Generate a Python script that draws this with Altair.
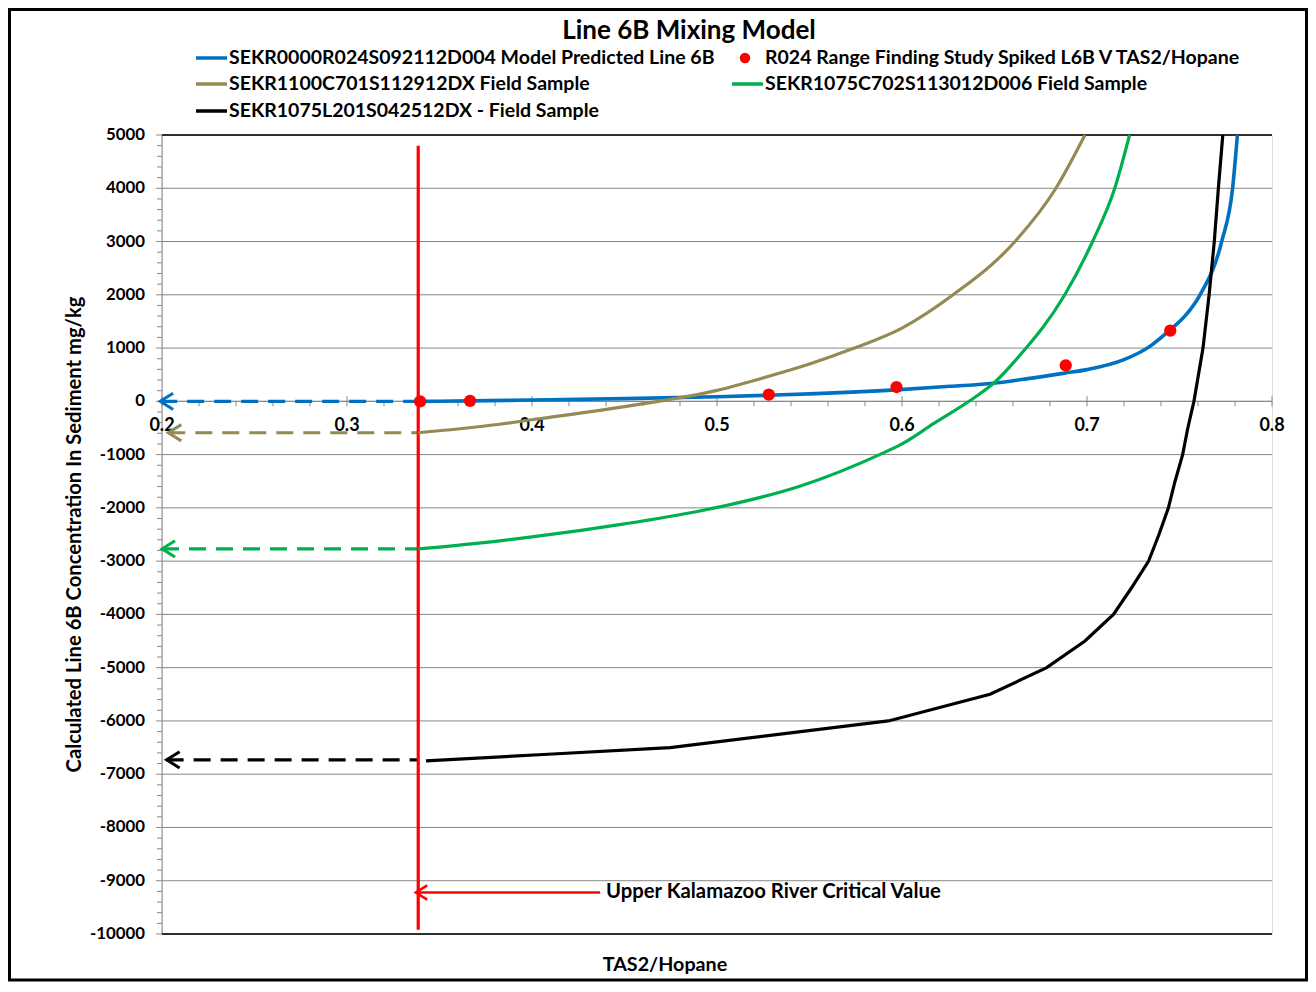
import altair as alt
import pandas as pd
import numpy as np

FONT = "Lato"

title_text = "Line 6B Mixing Model"
x_title = "TAS2/Hopane"
y_title = "Calculated Line 6B Concentration In Sediment mg/kg"
annotation_text = "Upper Kalamazoo River Critical Value"

legend_labels = [
    "SEKR0000R024S092112D004 Model Predicted Line 6B",
    "R024 Range Finding Study Spiked L6B V TAS2/Hopane",
    "SEKR1100C701S112912DX Field Sample",
    "SEKR1075C702S113012D006 Field Sample",
    "SEKR1075L201S042512DX - Field Sample",
]
BLUE, RED, TAN, GREEN, BLACK = "#0070C0", "#FF0000", "#948A54", "#00B050", "#000000"

# Series
blue_x = [0.3385, 0.3665, 0.40, 0.45, 0.50, 0.528, 0.55, 0.597, 0.626, 0.6495, 0.6638,
          0.688, 0.70, 0.72, 0.734, 0.745, 0.7536, 0.7611, 0.7728, 0.7787, 0.7813]
blue_y = [0, 8, 25, 50, 85, 115, 140, 215, 282, 340, 405,
          530, 595, 782, 1032, 1345, 1627, 2000, 3000, 4000, 5000]

spiked_x = [0.3395, 0.3665, 0.528, 0.597, 0.6885, 0.745]
spiked_y = [0, 10, 125, 269, 676, 1326]

tan_x = [0.3385, 0.36, 0.38, 0.40, 0.45, 0.47, 0.49, 0.50, 0.527, 0.55, 0.5735, 0.60,
         0.6276, 0.6611, 0.6832, 0.6989]
tan_y = [-590, -520, -440, -345, -100, 10, 130, 205, 460, 700, 990, 1375,
         2000, 3000, 4000, 5000]

green_x = [0.3385, 0.37, 0.40, 0.45, 0.49, 0.507, 0.5447, 0.5879, 0.60, 0.617, 0.64,
           0.6495, 0.6636, 0.688, 0.703, 0.715, 0.723]
green_y = [-2770, -2665, -2545, -2300, -2063, -1940, -1594, -1000, -800, -420, 90,
           340, 860, 2000, 3000, 4000, 5000]

black_x = [0.3427, 0.4062, 0.4746, 0.5926, 0.6476, 0.6782, 0.6989, 0.7143, 0.7241, 0.7333,
           0.7389, 0.744, 0.7476, 0.7517, 0.7545, 0.7578, 0.7627, 0.766, 0.7688, 0.771, 0.7734]
black_y = [-6750, -6630, -6500, -6000, -5500, -5000, -4500, -4000, -3500, -3000,
           -2500, -2000, -1500, -1000, -500, 0, 1000, 2000, 3000, 4000, 5000]

critical_value = 0.3385
arrow_tips = [0.199, 0.2034, 0.200, 0.2025]
arrow_levels = [0, -590, -2770, -6730]
arrow_colors = [BLUE, TAN, GREEN, BLACK]

annot_y = -9220
annot_tip = 0.3372
annot_tail = 0.4368
annot_text_x = 0.440

x_ticks = [0.2, 0.3, 0.4, 0.5, 0.6, 0.7, 0.8]
x_tick_labels = ["0.2", "0.3", "0.4", "0.5", "0.6", "0.7", "0.8"]
y_ticks = [5000, 4000, 3000, 2000, 1000, 0, -1000, -2000, -3000, -4000,
           -5000, -6000, -7000, -8000, -9000, -10000]
y_tick_labels = ["5000", "4000", "3000", "2000", "1000", "0", "-1000", "-2000", "-3000",
                 "-4000", "-5000", "-6000", "-7000", "-8000", "-9000", "-10000"]

# layout
W, H = 1110, 799
GRID = "#878787"
xs = alt.Scale(domain=[0.2, 0.8], nice=False, zero=False)
ys = alt.Scale(domain=[-10000, 5000], nice=False, zero=False)


def X(f):
    return alt.X(f, type="quantitative", scale=xs, axis=None)


def Y(f):
    return alt.Y(f, type="quantitative", scale=ys, axis=None)


one = pd.DataFrame({"a": [0]})

minor_x = [round(v, 2) for v in np.arange(0.2, 0.8001, 0.02) if round(v * 100) % 10 != 0]
minor_y = [v for v in range(-10000, 5001, 200) if v % 1000 != 0]

layers = []
ydf = pd.DataFrame({"v": y_ticks, "t": y_tick_labels})

# horizontal grid lines
layers.append(
    alt.Chart(ydf).mark_rule(color=GRID, strokeWidth=1).encode(
        y=Y("v"), x=alt.value(0), x2=alt.value(W))
)
# y axis line
layers.append(
    alt.Chart(one).mark_rule(color=GRID, strokeWidth=1).encode(
        x=alt.value(0), y=alt.value(0), y2=alt.value(H))
)
# y major ticks and labels
layers.append(
    alt.Chart(ydf).mark_rule(color=GRID, strokeWidth=1).encode(
        y=Y("v"), x=alt.value(-6), x2=alt.value(0))
)
layers.append(
    alt.Chart(ydf).mark_text(font=FONT, fontWeight="bold", fontSize=16.8, color="black",
                             align="right", baseline="middle").encode(
        y=Y("v"), x=alt.value(-17), text="t:N")
)
# y minor ticks
layers.append(
    alt.Chart(pd.DataFrame({"v": minor_y})).mark_rule(color=GRID, strokeWidth=1).encode(
        y=Y("v"), x=alt.value(-5), x2=alt.value(0)
    )
)
# top / bottom frame
layers.append(
    alt.Chart(pd.DataFrame({"v": [5000, -10000]})).mark_rule(color="black", strokeWidth=1.5).encode(
        y=Y("v"), x=alt.value(0), x2=alt.value(W)
    )
)
# x axis line at zero
layers.append(
    alt.Chart(pd.DataFrame({"a": [0.2], "b": [0.8], "y": [0]})).mark_rule(color=GRID, strokeWidth=1).encode(
        x=X("a"), x2="b", y=Y("y")
    )
)
layers.append(
    alt.Chart(pd.DataFrame({"x": x_ticks, "y": [0] * len(x_ticks)})).mark_tick(
        orient="vertical", size=10, thickness=1, color=GRID, opacity=1).encode(x=X("x"), y=Y("y"))
)
layers.append(
    alt.Chart(pd.DataFrame({"x": minor_x, "y": [0] * len(minor_x)})).mark_tick(
        orient="vertical", size=5, thickness=1, color=GRID, yOffset=2.5, opacity=1).encode(x=X("x"), y=Y("y"))
)
layers.append(
    alt.Chart(pd.DataFrame({"x": x_ticks, "t": x_tick_labels, "y": [0] * len(x_ticks)})).mark_text(
        font=FONT, fontWeight="bold", fontSize=18, color="black", dy=25, align="center", baseline="middle"
    ).encode(x=X("x"), y=Y("y"), text="t:N")
)

# dashed arrows to y axis
arrows = pd.DataFrame({"tip": arrow_tips, "end": [critical_value] * 4, "y": arrow_levels, "c": arrow_colors})
layers.append(
    alt.Chart(arrows).mark_rule(strokeWidth=3.2, strokeDash=[17, 10]).encode(
        x=X("tip"), x2="end", y=Y("y"), color=alt.Color("c:N", scale=None)
    )
)
HEAD = "M 2 -1.25 L 0 0 L 2 1.25"
layers.append(
    alt.Chart(arrows).mark_point(shape=HEAD, filled=False, size=169, strokeWidth=3, opacity=1).encode(
        x=X("tip"), y=Y("y"), color=alt.Color("c:N", scale=None)
    )
)

# critical value vertical line
layers.append(
    alt.Chart(pd.DataFrame({"x": [critical_value], "y1": [4800], "y2": [-9920]})).mark_rule(
        color=RED, strokeWidth=3.2).encode(x=X("x"), y=Y("y1"), y2="y2")
)

# curves
def curve(xv, yv, color, interp, width=3.2):
    return alt.Chart(pd.DataFrame({"x": xv, "y": yv})).mark_line(
        color=color, strokeWidth=width, interpolate=interp).encode(x=X("x"), y=Y("y"), order="x:Q")

layers.append(curve(blue_x, blue_y, BLUE, "monotone", 3.6))
layers.append(
    alt.Chart(pd.DataFrame({"x": spiked_x, "y": spiked_y})).mark_circle(size=150, color=RED, opacity=1).encode(
        x=X("x"), y=Y("y"))
)
layers.append(curve(tan_x, tan_y, TAN, "monotone"))
layers.append(curve(green_x, green_y, GREEN, "monotone"))
layers.append(curve(black_x, black_y, BLACK, "linear"))

# annotation arrow
layers.append(
    alt.Chart(pd.DataFrame({"a": [annot_tip], "b": [annot_tail], "y": [annot_y]})).mark_rule(
        color=RED, strokeWidth=2.5).encode(x=X("a"), x2="b", y=Y("y"))
)
layers.append(
    alt.Chart(pd.DataFrame({"a": [annot_tip], "y": [annot_y]})).mark_point(
        shape=HEAD, filled=False, size=130, strokeWidth=2.5, color=RED, opacity=1).encode(x=X("a"), y=Y("y"))
)
layers.append(
    alt.Chart(pd.DataFrame({"a": [annot_text_x], "y": [annot_y], "t": [annotation_text]})).mark_text(
        font=FONT, fontWeight="bold", fontSize=20.3, color="black", align="left", baseline="middle"
    ).encode(x=X("a"), y=Y("y"), text="t:N")
)

# titles
layers.append(alt.Chart(one).mark_text(font=FONT, fontWeight="bold", fontSize=26, color="black",
                                       align="center", baseline="middle").encode(
    x=alt.value(527), y=alt.value(-104), text=alt.value(title_text)))
layers.append(alt.Chart(one).mark_text(font=FONT, fontWeight="bold", fontSize=20.2, color="black",
                                       align="center", baseline="middle", angle=270).encode(
    x=alt.value(-87), y=alt.value(H / 2), text=alt.value(y_title)))
layers.append(alt.Chart(one).mark_text(font=FONT, fontWeight="bold", fontSize=19.7, color="black",
                                       align="center", baseline="middle").encode(
    x=alt.value(503), y=alt.value(830), text=alt.value(x_title)))

# legend
leg_rows = [-77, -77, -51, -51, -24]
leg_sym_x = [34, 583, 34, 570, 34]
leg_text_x = [67, 603, 67, 603, 67]
leg_colors = [BLUE, RED, TAN, GREEN, BLACK]
for i, lab in enumerate(legend_labels):
    if i == 1:
        layers.append(alt.Chart(one).mark_circle(size=110, color=RED, opacity=1).encode(
            x=alt.value(leg_sym_x[i]), y=alt.value(leg_rows[i])))
    else:
        layers.append(alt.Chart(one).mark_rule(color=leg_colors[i], strokeWidth=3.5).encode(
            x=alt.value(leg_sym_x[i]), x2=alt.value(leg_sym_x[i] + 31), y=alt.value(leg_rows[i])))
    layers.append(alt.Chart(one).mark_text(font=FONT, fontWeight="bold", fontSize=19.5, color="black",
                                           align="left", baseline="middle").encode(
        x=alt.value(leg_text_x[i]), y=alt.value(leg_rows[i]), text=alt.value(lab)))

# outer border
layers.append(alt.Chart(one).mark_rect(fillOpacity=0, stroke="black", strokeWidth=3).encode(
    x=alt.value(-152.5), x2=alt.value(1144.5), y=alt.value(-125.5), y2=alt.value(845)))

chart = alt.layer(*layers).properties(
    width=W, height=H,
    padding={"left": 154, "top": 127, "right": 36, "bottom": 48},
    autosize=alt.AutoSizeParams(type="none"),
).configure_view(stroke=GRID, strokeWidth=1).configure(background="white")

chart.save("out.html", embed_options={"renderer": "svg", "actions": False})
